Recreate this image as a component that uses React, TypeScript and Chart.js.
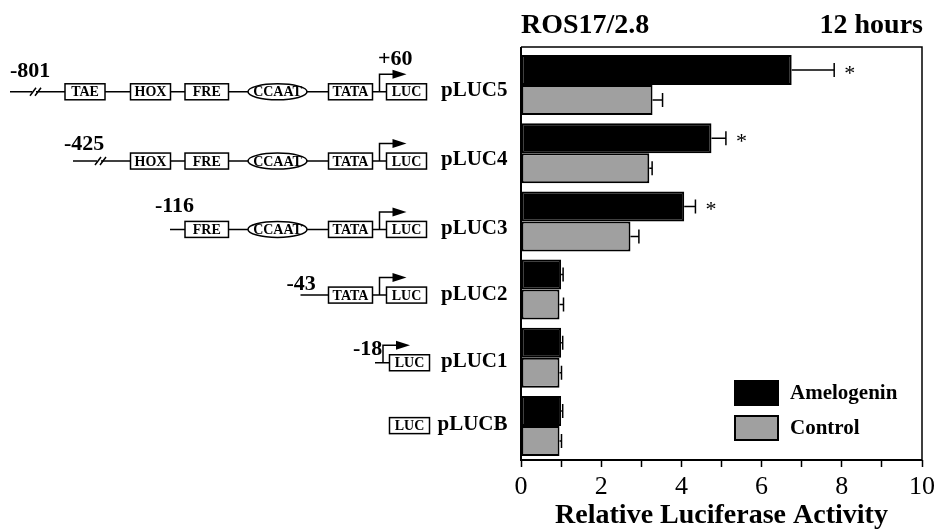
import React, { useEffect, useRef } from "react";
import { Chart, registerables } from "chart.js";

Chart.register(...registerables);

// ---------- data ----------
const constructs = ["pLUC5", "pLUC4", "pLUC3", "pLUC2", "pLUC1", "pLUCB"];
const amelogenin = [6.75, 4.75, 4.07, 1.0, 1.0, 1.0];
const amelogeninErr = [1.06, 0.36, 0.28, 0.05, 0.04, 0.04];
const control = [3.28, 3.2, 2.73, 0.96, 0.96, 0.96];
const controlErr = [0.25, 0.07, 0.21, 0.1, 0.05, 0.05];
const significant = [true, true, true, false, false, false];
const startPositions = ["-801", "-425", "-116", "-43", "-18", ""];
const endPosition = "+60";
const promoterElements = [
  ["TAE", "HOX", "FRE", "CCAAT", "TATA", "LUC"],
  ["HOX", "FRE", "CCAAT", "TATA", "LUC"],
  ["FRE", "CCAAT", "TATA", "LUC"],
  ["TATA", "LUC"],
  ["LUC"],
  ["LUC"],
];
const seriesNames = ["Amelogenin", "Control"];
const xTickLabels = [0, 2, 4, 6, 8, 10];
const chartTitle = "ROS17/2.8";
const timeLabel = "12 hours";
const xAxisTitle = "Relative Luciferase Activity";

// ---------- layout / style ----------
const SERIF = '"Liberation Serif", "Times New Roman", serif';
const GRAY = "#a0a0a0";
const ELEM_X: Record<string, [number, number]> = {
  TAE: [65, 105],
  HOX: [130.5, 170.5],
  FRE: [185, 228.5],
  CCAAT: [248, 307],
  TATA: [328.5, 372.5],
  LUC: [386.5, 426.5],
};
const rowLayout = [
  { dy: 6.7, lineStart: 10, brk: 30, numX: 10, numDy: -15, arrowX: 379.5, shift: 0, hasLine: true },
  { dy: 7.8, lineStart: 73, brk: 95, numX: 64, numDy: -11, arrowX: 379.5, shift: 0, hasLine: true },
  { dy: 8, lineStart: 170, brk: null, numX: 155, numDy: -17.5, arrowX: 379.5, shift: 0, hasLine: true },
  { dy: 5.5, lineStart: 300.5, brk: null, numX: 286.5, numDy: -5, arrowX: 379.5, shift: 0, hasLine: true },
  { dy: 5, lineStart: 375, brk: null, numX: 353, numDy: -7.5, arrowX: 383, shift: 3, hasLine: true },
  { dy: -0.3, lineStart: 0, brk: null, numX: 0, numDy: 0, arrowX: 0, shift: 3, hasLine: false },
];
const FRAME_TOP = 47;

const figurePlugin = {
  id: "figure",
  afterDraw(chart: any) {
    const ctx: CanvasRenderingContext2D = chart.ctx;
    const { left, right, bottom } = chart.chartArea;
    const top = FRAME_TOP;
    const xs = chart.scales.x;
    const ys = chart.scales.y;
    ctx.save();

    // frame
    ctx.strokeStyle = "#000";
    ctx.lineWidth = 1.5;
    ctx.beginPath();
    ctx.moveTo(left, top);
    ctx.lineTo(right, top);
    ctx.lineTo(right, bottom);
    ctx.stroke();
    ctx.lineWidth = 2;
    ctx.beginPath();
    ctx.moveTo(left, top);
    ctx.lineTo(left, bottom);
    ctx.lineTo(right, bottom);
    ctx.stroke();

    // error bars
    const vals = [amelogenin, control];
    const errs = [amelogeninErr, controlErr];
    ctx.lineWidth = 1.5;
    for (let d = 0; d < 2; d++) {
      const meta = chart.getDatasetMeta(d);
      meta.data.forEach((bar: any, i: number) => {
        const x0 = xs.getPixelForValue(vals[d][i]);
        const x1 = xs.getPixelForValue(vals[d][i] + errs[d][i]);
        const y = bar.y;
        ctx.beginPath();
        ctx.moveTo(x0, y);
        ctx.lineTo(x1, y);
        ctx.moveTo(x1, y - 7);
        ctx.lineTo(x1, y + 7);
        ctx.stroke();
        if (d === 0 && significant[i]) {
          ctx.fillStyle = "#000";
          ctx.font = `22px ${SERIF}`;
          ctx.textAlign = "left";
          ctx.textBaseline = "alphabetic";
          ctx.fillText("*", x1 + 10, y + 10);
        }
      });
    }

    // titles
    ctx.fillStyle = "#000";
    ctx.font = `bold 28px ${SERIF}`;
    ctx.textBaseline = "alphabetic";
    ctx.textAlign = "left";
    ctx.fillText(chartTitle, left, 33);
    ctx.textAlign = "right";
    ctx.fillText(timeLabel, right + 1, 33);

    // legend
    const lx = left + 214;
    const ly = [381, 416];
    const fills = ["#000", GRAY];
    ctx.lineWidth = 2;
    for (let k = 0; k < 2; k++) {
      ctx.fillStyle = fills[k];
      ctx.fillRect(lx, ly[k], 43, 24);
      ctx.strokeStyle = "#000";
      ctx.strokeRect(lx, ly[k], 43, 24);
      ctx.fillStyle = "#000";
      ctx.font = `bold 21px ${SERIF}`;
      ctx.textAlign = "left";
      ctx.textBaseline = "middle";
      ctx.fillText(seriesNames[k], lx + 55, ly[k] + 13);
    }

    // promoter diagrams
    constructs.forEach((name, i) => {
      const L = rowLayout[i];
      const cy = ys.getPixelForValue(i);
      const y = cy + L.dy;
      ctx.strokeStyle = "#000";
      ctx.fillStyle = "#000";
      ctx.lineWidth = 1.5;
      const luc = ELEM_X.LUC;
      const lucL = luc[0] + L.shift;
      const lucR = luc[1] + L.shift;
      if (L.hasLine) {
        ctx.beginPath();
        ctx.moveTo(L.lineStart, y);
        ctx.lineTo(lucL, y);
        ctx.stroke();
        // break marks
        if (L.brk !== null) {
          ctx.fillStyle = "#fff";
          ctx.fillRect(L.brk + 2, y - 1.5, 4, 3);
          ctx.beginPath();
          ctx.moveTo(L.brk, y + 4);
          ctx.lineTo(L.brk + 6, y - 4);
          ctx.moveTo(L.brk + 5, y + 4);
          ctx.lineTo(L.brk + 11, y - 4);
          ctx.stroke();
        }
        // transcription start arrow
        const ah = 17.5;
        ctx.beginPath();
        ctx.moveTo(L.arrowX, y);
        ctx.lineTo(L.arrowX, y - ah);
        ctx.lineTo(L.arrowX + 16, y - ah);
        ctx.stroke();
        ctx.fillStyle = "#000";
        ctx.beginPath();
        ctx.moveTo(L.arrowX + 13, y - ah - 4.5);
        ctx.lineTo(L.arrowX + 27, y - ah);
        ctx.lineTo(L.arrowX + 13, y - ah + 4.5);
        ctx.closePath();
        ctx.fill();
        // start position number
        ctx.font = `bold 22px ${SERIF}`;
        ctx.textAlign = "left";
        ctx.textBaseline = "alphabetic";
        ctx.fillText(startPositions[i], L.numX, y + L.numDy);
        if (i === 0) ctx.fillText(endPosition, 378, y - 27);
      }
      // elements
      promoterElements[i].forEach((el) => {
        let [x0, x1] = ELEM_X[el];
        if (el === "LUC") {
          x0 = lucL;
          x1 = lucR;
        }
        ctx.lineWidth = 1.5;
        ctx.strokeStyle = "#000";
        ctx.fillStyle = "#fff";
        if (el === "CCAAT") {
          ctx.beginPath();
          ctx.ellipse((x0 + x1) / 2, y, (x1 - x0) / 2, 8, 0, 0, Math.PI * 2);
          ctx.fill();
          ctx.stroke();
        } else {
          ctx.fillRect(x0, y - 8, x1 - x0, 16);
          ctx.strokeRect(x0, y - 8, x1 - x0, 16);
        }
        ctx.fillStyle = "#000";
        ctx.font = `bold 14px ${SERIF}`;
        ctx.textAlign = "center";
        ctx.textBaseline = "middle";
        ctx.fillText(el, (x0 + x1) / 2, y + 1);
      });
      // construct label
      ctx.fillStyle = "#000";
      ctx.font = `bold 21px ${SERIF}`;
      ctx.textAlign = "right";
      ctx.textBaseline = "middle";
      ctx.fillText(name, 507.5, y - 1);
    });

    ctx.restore();
  },
};

export default function App() {
  const ref = useRef<HTMLCanvasElement | null>(null);
  useEffect(() => {
    document.body.style.margin = "0";
    const canvas = ref.current;
    if (!canvas) return;
    const chart = new Chart(canvas, {
      type: "bar",
      data: {
        labels: constructs,
        datasets: [
          {
            label: seriesNames[0],
            data: amelogenin,
            backgroundColor: "#000",
            borderColor: "#000",
            borderWidth: 2,
            borderSkipped: false,
          },
          {
            label: seriesNames[1],
            data: control,
            backgroundColor: GRAY,
            borderColor: "#000",
            borderWidth: 2,
            borderSkipped: false,
          },
        ],
      },
      options: {
        indexAxis: "y",
        responsive: false,
        animation: false,
        events: [],
        layout: { padding: { left: 0, top: 51, right: 12, bottom: 0 } },
        datasets: { bar: { categoryPercentage: 0.88, barPercentage: 1.0 } },
        plugins: { legend: { display: false }, tooltip: { enabled: false }, title: { display: false } },
        scales: {
          x: {
            type: "linear",
            min: 0,
            max: 10,
            border: { display: false },
            grid: {
              display: true,
              drawOnChartArea: false,
              drawTicks: true,
              tickLength: 7,
              tickColor: "#000",
              tickWidth: 1.5,
            },
            ticks: {
              stepSize: 1,
              autoSkip: false,
              maxRotation: 0,
              padding: 5,
              color: "#000",
              font: { family: SERIF, size: 26, lineHeight: 1.2 },
              callback: (v: any) => (xTickLabels.includes(Number(v)) ? String(v) : ""),
            },
            title: {
              display: true,
              text: xAxisTitle,
              color: "#000",
              padding: { top: 0, bottom: 0 },
              font: { family: SERIF, size: 28, weight: "bold", lineHeight: 0.95 },
            },
            afterFit: (s: any) => {
              s.height = 69;
              s.paddingRight = 0;
              s.paddingLeft = 0;
            },
          },
          y: {
            type: "category",
            offset: true,
            border: { display: false },
            grid: { display: false },
            ticks: { display: false },
            afterFit: (s: any) => {
              s.width = 521;
            },
          },
        },
      },
      plugins: [figurePlugin],
    } as any);
    return () => chart.destroy();
  }, []);
  return <canvas ref={ref} width={934} height={529} style={{ display: "block" }} />;
}
